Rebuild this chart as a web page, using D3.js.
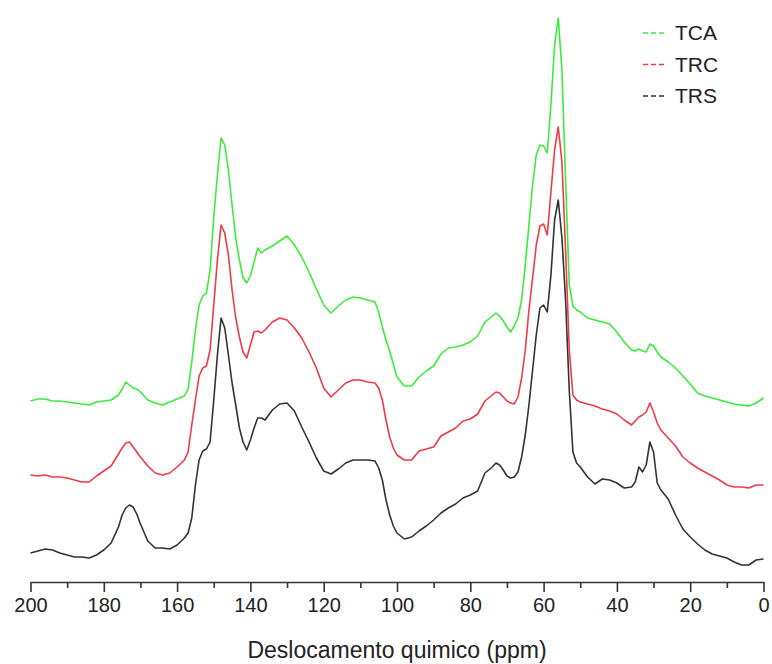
<!DOCTYPE html>
<html>
<head>
<meta charset="utf-8">
<script src="https://cdn.jsdelivr.net/npm/d3@7/dist/d3.min.js"></script>
<style>
  body { margin: 0; background: #fff; }
  text { font-family: Arial, "Liberation Sans", sans-serif; fill: #222; }
</style>
</head>
<body>
<script>
// chemical shift grid (ppm), shared by the three spectra
var ppm = [200,198,196,194,192,190,188,186,184,182,
           180,178,176,175,174,173,172,171,170,168,
           166,164,162,160,158,157,156,155,154,153,
           152,151,150,149,148,147,146,145,144,143,
           142,141,140,139,138,137,136,134,132,130,
           128,126,124,122,120,118,116,114,112,110,
           108,106,105,104,103,102,101,100,98,96,
           94,92,90,88,86,84,82,80,78,76,
           74,73,72,71,70,69,68,67,66,65,
           64,63,62,61,60,59,58,57,56,55,
           54,53,52,51,50,48,46,44,42,40,
           38,36,35,34,33,32,31,30,29,28,
           26,24,22,20,18,16,14,12,10,8,
           6,4,2,0];

// intensities (a.u.)
var trs = [29,31,33,32,29,27,25,25,24,27,
           32,39,55,67,74,77,75,68,58,41,
           34,34,33,37,44,49,64,97,122,131,
           133,140,182,227,264,254,227,199,177,154,
           140,132,142,154,164,164,162,172,178,179,
           171,155,140,124,111,108,113,119,122,122,
           122,121,114,102,82,67,56,49,43,45,
           51,56,62,69,74,78,84,87,91,109,
           115,119,117,112,106,104,105,110,125,147,
           177,212,247,274,277,270,307,362,382,344,
           282,192,130,119,115,105,98,103,102,99,
           94,95,100,115,110,117,140,130,99,92,
           83,67,53,45,38,32,28,26,24,20,
           17,17,22,23];

var trc = [27,26,27,25,25,24,22,20,20,26,
           31,36,48,54,59,60,55,50,45,36,
           29,27,29,35,42,50,77,102,126,134,
           136,152,197,242,277,269,247,212,184,165,
           150,144,157,170,171,169,172,180,184,182,
           174,164,150,134,114,105,112,119,122,122,
           120,119,114,102,82,65,54,47,42,42,
           51,53,55,66,70,74,81,83,88,101,
           107,110,109,105,101,99,98,105,124,152,
           192,224,257,276,278,267,310,352,375,340,
           252,152,107,102,100,98,96,93,91,88,
           82,77,81,85,87,90,99,90,79,72,
           64,56,45,39,34,30,26,22,17,15,
           15,14,17,17];

var tca = [21,23,23,21,21,20,19,18,17,20,
           21,22,27,33,40,37,34,33,30,22,
           19,17,20,23,26,33,60,92,117,126,
           129,152,205,247,284,277,252,217,184,162,
           144,139,146,160,174,169,172,176,181,186,
           177,165,150,133,117,109,116,122,125,124,
           122,120,110,95,82,71,58,45,36,36,
           45,51,56,68,74,75,77,80,86,100,
           106,109,106,101,95,90,96,104,122,157,
           197,237,267,277,276,269,317,377,404,352,
           242,137,116,112,110,104,102,100,98,90,
           80,72,71,73,71,70,78,76,70,65,
           60,54,46,38,29,26,24,22,20,18,
           17,16,19,24];

var seriesNames = ["TCA", "TRC", "TRS"];
var seriesColors = ["#3bec3b", "#ee3b46", "#333333"];
var seriesOffsets = [160, 80, 0];   // vertical stacking offset
var seriesValues = [tca, trc, trs];

var xTicks = [200,180,160,140,120,100,80,60,40,20,0];
var xTitle = "Deslocamento quimico (ppm)";

window.onload = function(){

    var w = 772, h = 664;
    var svg = d3.select("body").append("svg")
        .attr("width", w)
        .attr("height", h);

    var x = d3.scaleLinear()
        .domain([200, 0])
        .range([30.5, 763.5]);

    var y = d3.scaleLinear()
        .domain([0, 582])
        .range([582, 0]);

    var line = d3.line()
        .x(function(d){ return x(d[0]); })
        .y(function(d){ return y(d[1]); });

    // draw bottom to top so green sits over the others
    seriesNames.slice().reverse().forEach(function(name){
        var i = seriesNames.indexOf(name);
        var pts = ppm.map(function(p, k){
            return [p, seriesValues[i][k] + seriesOffsets[i]];
        });
        svg.append("path")
            .datum(pts)
            .attr("class", "spectrum")
            .attr("d", line)
            .style("fill", "none")
            .style("stroke", seriesColors[i])
            .style("stroke-width", 1.6)
            .style("stroke-linejoin", "round");
    });

    // minor ticks every 10
    var minor = svg.append("g")
        .attr("transform", "translate(0," + y(0) + ")")
        .call(d3.axisBottom(x).tickValues(d3.range(190, 0, -20)).tickSize(6).tickFormat(""));
    minor.select(".domain").remove();

    // major ticks every 20
    var major = svg.append("g")
        .attr("transform", "translate(0," + y(0) + ")")
        .call(d3.axisBottom(x).tickValues(xTicks).tickSize(10).tickSizeOuter(0).tickPadding(6));

    svg.selectAll(".tick line, .domain")
        .style("stroke", "#333")
        .style("stroke-width", 1.6);

    major.selectAll(".tick text")
        .style("font-size", "20px")
        .style("fill", "#222")
        .style("font-family", "Arial, 'Liberation Sans', sans-serif");

    svg.append("text")
        .attr("x", 397)
        .attr("y", 658)
        .attr("text-anchor", "middle")
        .style("font-size", "23px")
        .text(xTitle);

    // legend
    var legend = svg.selectAll(".legend")
        .data(seriesNames)
        .enter()
        .append("g")
        .attr("class", "legend")
        .attr("transform", function(d, i){
            return "translate(643," + (33 + i * 31.5) + ")";
        });

    legend.append("line")
        .attr("x1", 0)
        .attr("x2", 24)
        .attr("y1", 0)
        .attr("y2", 0)
        .style("stroke", function(d, i){ return seriesColors[i]; })
        .style("stroke-width", 1.6)
        .style("stroke-dasharray", "5,3");

    legend.append("text")
        .attr("x", 32)
        .attr("y", 7)
        .style("font-size", "21px")
        .text(function(d){ return d; });
};
</script>
</body>
</html>
